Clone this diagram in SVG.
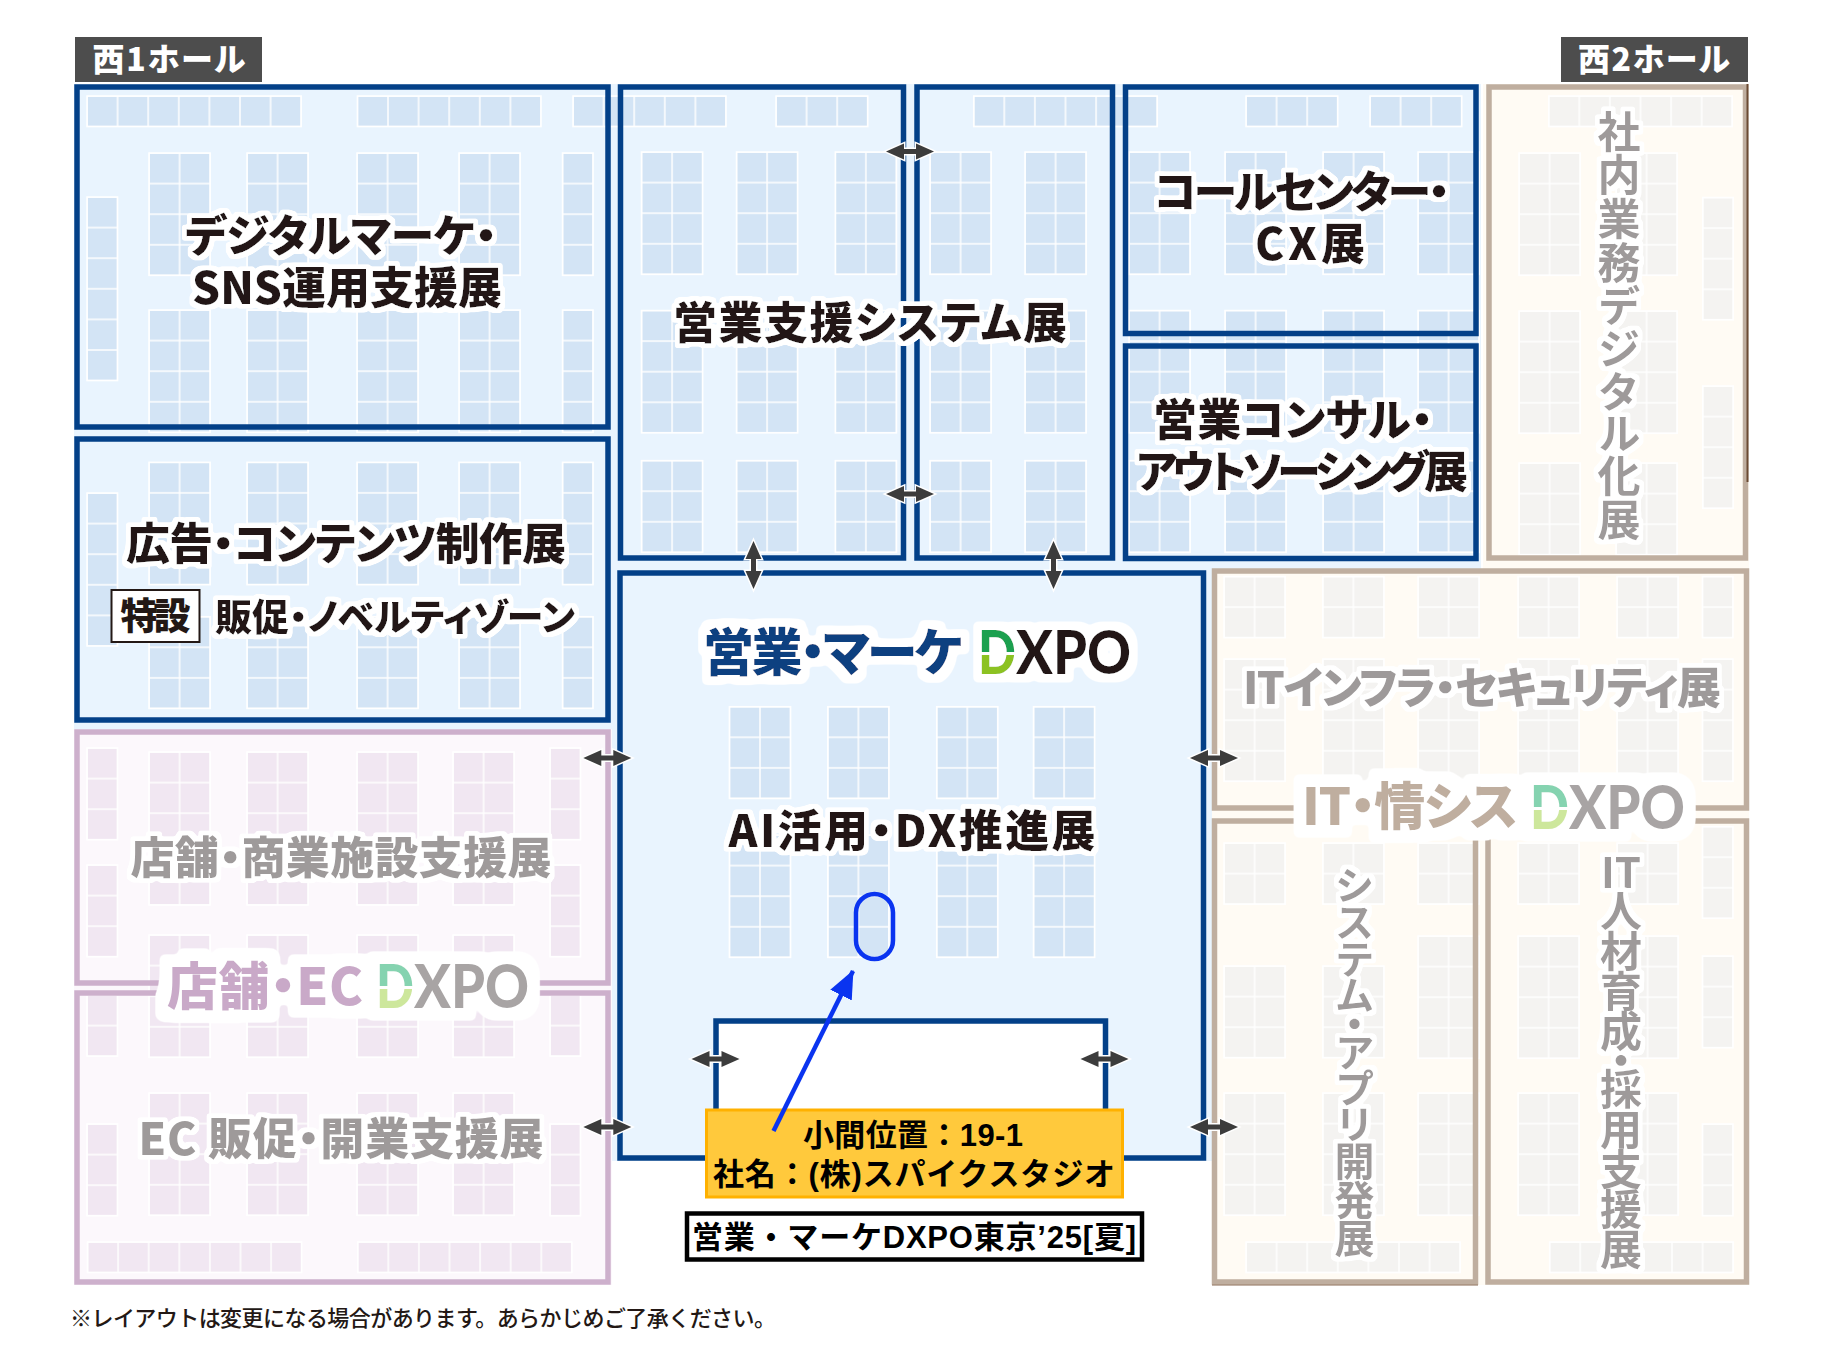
<svg xmlns="http://www.w3.org/2000/svg" width="1830" height="1350" viewBox="0 0 1830 1350">
<style>
.bb{fill:url(#cb);stroke:#fff;stroke-width:1.5}
.bp{fill:url(#cp);stroke:#fff;stroke-width:1.5}
.bg{fill:url(#cg);stroke:#fff;stroke-width:1.5}
.fb{fill:none;stroke:#034088;stroke-width:5.5}
.fp{fill:none;stroke:#cdb0cc;stroke-width:5.5}
.fg{fill:none;stroke:#bfae9f;stroke-width:5.5}
text{font-family:"Noto Sans CJK JP",sans-serif;font-weight:900;font-feature-settings:"palt";text-anchor:middle}
.k{fill:#231815;font-size:44px;filter:url(#h4)}
.g{fill:#9e9a9a;font-size:44px;filter:url(#h4)}
.v{writing-mode:vertical-rl;text-anchor:start;font-feature-settings:"vpal";font-weight:700}
.hall{fill:#fff;font-size:32px}
.logo{font-size:51px}
.dx{font-family:Lato,sans-serif;font-size:60px;text-anchor:start;font-feature-settings:normal}
.lab{font-family:"Liberation Sans","Noto Sans CJK JP",sans-serif;fill:#000;font-size:31px;font-weight:700;font-feature-settings:normal}
.note{fill:#231815;font-size:22px;font-weight:500;text-anchor:start;font-feature-settings:normal}
.dbl{fill:#3c3c3c;stroke:#fff;stroke-width:3;paint-order:stroke}
</style>
<defs>
<pattern id="cb" width="30.6" height="30.6" patternUnits="userSpaceOnUse"><rect width="30.6" height="30.6" fill="#d3e4f5" stroke="#fff" stroke-width="1.5"/></pattern>
<pattern id="cp" width="30.6" height="30.6" patternUnits="userSpaceOnUse"><rect width="30.6" height="30.6" fill="#f1e7f2" stroke="#fff" stroke-width="1.5"/></pattern>
<pattern id="cg" width="30.6" height="30.6" patternUnits="userSpaceOnUse"><rect width="30.6" height="30.6" fill="#f4f3f1" stroke="#fff" stroke-width="1.5"/></pattern>
<linearGradient id="dc" x1="0" y1="0" x2="0" y2="1"><stop offset="0.52" stop-color="#1aa050"/><stop offset="0.52" stop-color="#fff"/><stop offset="0.55" stop-color="#fff"/><stop offset="0.55" stop-color="#8cc220"/></linearGradient>
<linearGradient id="df" x1="0" y1="0" x2="0" y2="1"><stop offset="0.52" stop-color="#85d3b0"/><stop offset="0.52" stop-color="#fff"/><stop offset="0.55" stop-color="#fff"/><stop offset="0.55" stop-color="#cde79c"/></linearGradient>
<filter id="h4" x="-50%" y="-50%" width="200%" height="200%"><feMorphology in="SourceAlpha" operator="dilate" radius="3.5"/><feGaussianBlur stdDeviation="1"/><feComponentTransfer result="m"><feFuncA type="linear" slope="5" intercept="-1"/></feComponentTransfer><feFlood flood-color="#fff"/><feComposite in2="m" operator="in"/><feMerge><feMergeNode/><feMergeNode in="SourceGraphic"/></feMerge></filter>
<filter id="h8" x="-20%" y="-50%" width="140%" height="200%"><feMorphology in="SourceAlpha" operator="dilate" radius="7"/><feGaussianBlur stdDeviation="2"/><feComponentTransfer result="m"><feFuncA type="linear" slope="6" intercept="-1"/></feComponentTransfer><feFlood flood-color="#fff"/><feComposite in2="m" operator="in"/><feMerge><feMergeNode/><feMergeNode in="SourceGraphic"/></feMerge></filter>
<filter id="h12" x="-20%" y="-50%" width="140%" height="200%"><feMorphology in="SourceAlpha" operator="dilate" radius="11"/><feGaussianBlur stdDeviation="2.5"/><feComponentTransfer result="m"><feFuncA type="linear" slope="6" intercept="-1"/></feComponentTransfer><feFlood flood-color="#fff"/><feComposite in2="m" operator="in"/><feMerge><feMergeNode/><feMergeNode in="SourceGraphic"/></feMerge></filter>
<path id="dbl" class="dbl" d="M-24,0L-6,-8V-2.5H6V-8L24,0L6,8V2.5H-6V8Z"/>
<marker id="bh" markerUnits="userSpaceOnUse" markerWidth="30" markerHeight="24" refX="27" refY="12" orient="auto"><path d="M0,0L28,12L0,24Z" fill="#0a34f0"/></marker>
</defs>

<g id="floor">
<rect x="74" y="84" width="1407" height="490" fill="#e9f4fe"/>
<rect x="74" y="84" width="544" height="645" fill="#e9f4fe"/>
<rect x="612" y="570" width="600" height="591" fill="#e9f4fe"/>
<rect x="74" y="729" width="538" height="556" fill="#fcf8fc"/>
<rect x="1483" y="84" width="266" height="490" fill="#fffbf4"/>
<rect x="1212" y="569" width="537" height="716" fill="#fffbf4"/>
</g>

<g id="booths-blue">
<rect class="bb" transform="translate(87,96)" width="214.2" height="30.6"/>
<rect class="bb" transform="translate(357.4,96)" width="183.6" height="30.6"/>
<rect class="bb" transform="translate(573,96)" width="153" height="30.6"/>
<rect class="bb" transform="translate(776,96)" width="91.8" height="30.6"/>
<rect class="bb" transform="translate(973.7,96)" width="183.6" height="30.6"/>
<rect class="bb" transform="translate(1246,96)" width="91.8" height="30.6"/>
<rect class="bb" transform="translate(1370,96)" width="91.8" height="30.6"/>
<rect class="bb" transform="translate(87,197)" width="30.6" height="183.6"/>
<rect class="bb" transform="translate(149,153)" width="61.2" height="122.4"/>
<rect class="bb" transform="translate(247,153)" width="61.2" height="122.4"/>
<rect class="bb" transform="translate(357,153)" width="61.2" height="122.4"/>
<rect class="bb" transform="translate(459,153)" width="61.2" height="122.4"/>
<rect class="bb" transform="translate(562.5,153)" width="30.6" height="122.4"/>
<rect class="bb" transform="translate(149,310)" width="61.2" height="122.4"/>
<rect class="bb" transform="translate(247,310)" width="61.2" height="122.4"/>
<rect class="bb" transform="translate(357,310)" width="61.2" height="122.4"/>
<rect class="bb" transform="translate(459,310)" width="61.2" height="122.4"/>
<rect class="bb" transform="translate(562.5,310)" width="30.6" height="122.4"/>
<rect class="bb" transform="translate(87,493)" width="30.6" height="153"/>
<rect class="bb" transform="translate(149,462.3)" width="61.2" height="122.4"/>
<rect class="bb" transform="translate(247,462.3)" width="61.2" height="122.4"/>
<rect class="bb" transform="translate(357,462.3)" width="61.2" height="122.4"/>
<rect class="bb" transform="translate(459,462.3)" width="61.2" height="122.4"/>
<rect class="bb" transform="translate(562.5,462.3)" width="30.6" height="122.4"/>
<rect class="bb" transform="translate(149,616.7)" width="61.2" height="91.8"/>
<rect class="bb" transform="translate(247,616.7)" width="61.2" height="91.8"/>
<rect class="bb" transform="translate(357,616.7)" width="61.2" height="91.8"/>
<rect class="bb" transform="translate(459,616.7)" width="61.2" height="91.8"/>
<rect class="bb" transform="translate(562.5,616.7)" width="30.6" height="91.8"/>
<rect class="bb" transform="translate(641.5,152)" width="61.2" height="122.4"/>
<rect class="bb" transform="translate(736.5,152)" width="61.2" height="122.4"/>
<rect class="bb" transform="translate(835.3,152)" width="61.2" height="122.4"/>
<rect class="bb" transform="translate(930,152)" width="61.2" height="122.4"/>
<rect class="bb" transform="translate(1025,152)" width="61.2" height="122.4"/>
<rect class="bb" transform="translate(1129,152)" width="61.2" height="122.4"/>
<rect class="bb" transform="translate(1225,152)" width="61.2" height="122.4"/>
<rect class="bb" transform="translate(1323,152)" width="61.2" height="122.4"/>
<rect class="bb" transform="translate(1418,152)" width="61.2" height="122.4"/>
<rect class="bb" transform="translate(641.5,310.5)" width="61.2" height="122.4"/>
<rect class="bb" transform="translate(736.5,310.5)" width="61.2" height="122.4"/>
<rect class="bb" transform="translate(835.3,310.5)" width="61.2" height="122.4"/>
<rect class="bb" transform="translate(930,310.5)" width="61.2" height="122.4"/>
<rect class="bb" transform="translate(1025,310.5)" width="61.2" height="122.4"/>
<rect class="bb" transform="translate(1129,310.5)" width="61.2" height="122.4"/>
<rect class="bb" transform="translate(1225,310.5)" width="61.2" height="122.4"/>
<rect class="bb" transform="translate(1323,310.5)" width="61.2" height="122.4"/>
<rect class="bb" transform="translate(1418,310.5)" width="61.2" height="122.4"/>
<rect class="bb" transform="translate(641.5,460.6)" width="61.2" height="91.8"/>
<rect class="bb" transform="translate(736.5,460.6)" width="61.2" height="91.8"/>
<rect class="bb" transform="translate(835.3,460.6)" width="61.2" height="91.8"/>
<rect class="bb" transform="translate(930,460.6)" width="61.2" height="91.8"/>
<rect class="bb" transform="translate(1025,460.6)" width="61.2" height="91.8"/>
<rect class="bb" transform="translate(1129,460.6)" width="61.2" height="91.8"/>
<rect class="bb" transform="translate(1225,460.6)" width="61.2" height="91.8"/>
<rect class="bb" transform="translate(1323,460.6)" width="61.2" height="91.8"/>
<rect class="bb" transform="translate(1418,460.6)" width="61.2" height="91.8"/>
<rect class="bb" transform="translate(729.4,706.7)" width="61.2" height="91.8"/>
<rect class="bb" transform="translate(827.8,706.7)" width="61.2" height="91.8"/>
<rect class="bb" transform="translate(936.7,706.7)" width="61.2" height="91.8"/>
<rect class="bb" transform="translate(1033.5,706.7)" width="61.2" height="91.8"/>
<rect class="bb" transform="translate(729.4,835)" width="61.2" height="122.4"/>
<rect class="bb" transform="translate(827.8,835)" width="61.2" height="122.4"/>
<rect class="bb" transform="translate(936.7,835)" width="61.2" height="122.4"/>
<rect class="bb" transform="translate(1033.5,835)" width="61.2" height="122.4"/>
</g>

<g id="booths-pink">
<rect class="bp" transform="translate(149,752)" width="61.2" height="153"/>
<rect class="bp" transform="translate(247,752)" width="61.2" height="153"/>
<rect class="bp" transform="translate(357,752)" width="61.2" height="153"/>
<rect class="bp" transform="translate(453,752)" width="61.2" height="153"/>
<rect class="bp" transform="translate(149,935)" width="61.2" height="122.4"/>
<rect class="bp" transform="translate(247,935)" width="61.2" height="122.4"/>
<rect class="bp" transform="translate(357,935)" width="61.2" height="122.4"/>
<rect class="bp" transform="translate(453,935)" width="61.2" height="122.4"/>
<rect class="bp" transform="translate(149,1093)" width="61.2" height="122.4"/>
<rect class="bp" transform="translate(247,1093)" width="61.2" height="122.4"/>
<rect class="bp" transform="translate(357,1093)" width="61.2" height="122.4"/>
<rect class="bp" transform="translate(453,1093)" width="61.2" height="122.4"/>
<rect class="bp" transform="translate(87,748)" width="30.6" height="91.8"/>
<rect class="bp" transform="translate(87,865)" width="30.6" height="91.8"/>
<rect class="bp" transform="translate(87,995)" width="30.6" height="61.2"/>
<rect class="bp" transform="translate(87,1124)" width="30.6" height="91.8"/>
<rect class="bp" transform="translate(550,748)" width="30.6" height="91.8"/>
<rect class="bp" transform="translate(550,865)" width="30.6" height="91.8"/>
<rect class="bp" transform="translate(550,995)" width="30.6" height="61.2"/>
<rect class="bp" transform="translate(550,1124)" width="30.6" height="91.8"/>
<rect class="bp" transform="translate(87.5,1242)" width="214.2" height="30.6"/>
<rect class="bp" transform="translate(357.7,1242)" width="214.2" height="30.6"/>
</g>

<g id="booths-grey">
<rect class="bg" transform="translate(1548.7,96)" width="183.6" height="30.6"/>
<rect class="bg" transform="translate(1519,153)" width="61.2" height="122.4"/>
<rect class="bg" transform="translate(1616,153)" width="61.2" height="122.4"/>
<rect class="bg" transform="translate(1519,311)" width="61.2" height="122.4"/>
<rect class="bg" transform="translate(1616,311)" width="61.2" height="122.4"/>
<rect class="bg" transform="translate(1519,463)" width="61.2" height="91.8"/>
<rect class="bg" transform="translate(1616,463)" width="61.2" height="91.8"/>
<rect class="bg" transform="translate(1702.7,197.5)" width="30.6" height="122.4"/>
<rect class="bg" transform="translate(1702.7,386)" width="30.6" height="122.4"/>
<rect class="bg" transform="translate(1224,576.5)" width="61.2" height="61.2"/>
<rect class="bg" transform="translate(1322.8,576.5)" width="61.2" height="61.2"/>
<rect class="bg" transform="translate(1418,576.5)" width="61.2" height="61.2"/>
<rect class="bg" transform="translate(1518,576.5)" width="61.2" height="61.2"/>
<rect class="bg" transform="translate(1617,576.5)" width="61.2" height="61.2"/>
<rect class="bg" transform="translate(1702.4,576.5)" width="30.6" height="61.2"/>
<rect class="bg" transform="translate(1224,659)" width="61.2" height="122.4"/>
<rect class="bg" transform="translate(1322.8,659)" width="61.2" height="122.4"/>
<rect class="bg" transform="translate(1418,659)" width="61.2" height="122.4"/>
<rect class="bg" transform="translate(1518,659)" width="61.2" height="122.4"/>
<rect class="bg" transform="translate(1617,659)" width="61.2" height="122.4"/>
<rect class="bg" transform="translate(1702.4,659)" width="30.6" height="122.4"/>
<rect class="bg" transform="translate(1224,843)" width="61.2" height="61.2"/>
<rect class="bg" transform="translate(1322.8,843)" width="61.2" height="61.2"/>
<rect class="bg" transform="translate(1418,843)" width="61.2" height="61.2"/>
<rect class="bg" transform="translate(1518,843)" width="61.2" height="61.2"/>
<rect class="bg" transform="translate(1617,843)" width="61.2" height="61.2"/>
<rect class="bg" transform="translate(1224,966)" width="61.2" height="91.8"/>
<rect class="bg" transform="translate(1322.8,966)" width="61.2" height="91.8"/>
<rect class="bg" transform="translate(1418,936)" width="61.2" height="122.4"/>
<rect class="bg" transform="translate(1518,936)" width="61.2" height="122.4"/>
<rect class="bg" transform="translate(1617,936)" width="61.2" height="122.4"/>
<rect class="bg" transform="translate(1224,1093)" width="61.2" height="122.4"/>
<rect class="bg" transform="translate(1322.8,1093)" width="61.2" height="122.4"/>
<rect class="bg" transform="translate(1418,1093)" width="61.2" height="122.4"/>
<rect class="bg" transform="translate(1518,1093)" width="61.2" height="122.4"/>
<rect class="bg" transform="translate(1617,1093)" width="61.2" height="122.4"/>
<rect class="bg" transform="translate(1702.4,826.6)" width="30.6" height="91.8"/>
<rect class="bg" transform="translate(1702.4,956)" width="30.6" height="91.8"/>
<rect class="bg" transform="translate(1702.4,1124)" width="30.6" height="91.8"/>
<rect class="bg" transform="translate(1246,1242)" width="214.2" height="30.6"/>
<rect class="bg" transform="translate(1549.6,1242)" width="183.6" height="30.6"/>
</g>

<g id="hall-west1">
<rect x="75" y="37" width="187" height="45" fill="#4d4d4d"/>
<text class="hall" x="169" y="71" textLength="153">西1ホール</text>
</g>
<g id="hall-west2">
<rect x="1561" y="37" width="187" height="45" fill="#4d4d4d"/>
<text class="hall" x="1654" y="71" textLength="152">西2ホール</text>
</g>

<g id="zone-digital-marketing">
<rect class="fb" x="77" y="87" width="531" height="340"/>
<text class="k" x="341" y="252" textLength="312">デジタルマーケ・</text>
<text class="k" x="347" y="304" textLength="310">SNS運用支援展</text>
</g>
<g id="zone-advertising">
<rect class="fb" x="77" y="439" width="531" height="281"/>
<text class="k" x="346" y="560" textLength="440">広告・コンテンツ制作展</text>
<rect x="111.5" y="590" width="88" height="52" fill="#fff" stroke="#231815" stroke-width="2"/>
<text class="k" style="font-size:37px;filter:none" x="155.5" y="630" textLength="70">特設</text>
<text class="k" style="font-size:37px" x="395" y="631" textLength="360">販促・ノベルティゾーン</text>
</g>
<g id="zone-sales-support">
<rect class="fb" x="620.5" y="87" width="283" height="471"/>
<rect class="fb" x="917" y="87" width="195.5" height="471"/>
<text class="k" x="870" y="339" textLength="394">営業支援システム展</text>
</g>
<g id="zone-call-center">
<rect class="fb" x="1125.5" y="87" width="350.5" height="246.5"/>
<text class="k" x="1302" y="208" textLength="296">コールセンター・</text>
<text class="k" x="1310" y="260" textLength="110">CX展</text>
</g>
<g id="zone-sales-consulting">
<rect class="fb" x="1125.5" y="346" width="350.5" height="212.5"/>
<text class="k" x="1293" y="436" textLength="280">営業コンサル・</text>
<text class="k" x="1302" y="488" textLength="332">アウトソーシング展</text>
</g>
<g id="zone-internal-dx">
<rect class="fg" x="1489" y="87" width="256.5" height="471"/>
<line x1="1747.5" y1="84" x2="1747.5" y2="482" stroke="#6b4a33" stroke-width="2"/>
<text class="g v" x="1619" y="110" style="font-size:43px;letter-spacing:0.6px">社内業務デジタル化展</text>
</g>
<g id="zone-store-ec">
<rect class="fp" x="77" y="732" width="531" height="251"/>
<rect class="fp" x="77" y="993" width="531" height="289"/>
<text class="g" x="341" y="874" textLength="421">店舗・商業施設支援展</text>
<text class="g" x="341" y="1155" textLength="405">EC 販促・開業支援展</text>
<g filter="url(#h12)">
<text class="logo" style="fill:#c9a9c8" x="265" y="1005" textLength="196">店舗・EC</text>
<text class="logo dx" style="fill:url(#df)" x="376" y="1008" textLength="38" lengthAdjust="spacingAndGlyphs">D</text>
<text class="logo dx" style="fill:#a8a4a4" x="414" y="1008" textLength="115" lengthAdjust="spacingAndGlyphs">XPO</text>
</g>
</g>
<g id="zone-it">
<rect class="fg" x="1214.5" y="571" width="532" height="237"/>
<rect class="fg" x="1214.5" y="821" width="261" height="461"/>
<rect class="fg" x="1488" y="821" width="258.5" height="461"/>
<line x1="1212" y1="1285" x2="1478" y2="1285" stroke="#8a6a55"/>
<text class="g" x="1482" y="704" textLength="478">ITインフラ・セキュリティ展</text>
<g filter="url(#h12)">
<text class="logo" style="fill:#bfae9f" x="1410" y="825" textLength="216">IT・情シス</text>
<text class="logo dx" style="fill:url(#df)" x="1530" y="829" textLength="39" lengthAdjust="spacingAndGlyphs">D</text>
<text class="logo dx" style="fill:#a8a4a4" x="1569" y="829" textLength="116" lengthAdjust="spacingAndGlyphs">XPO</text>
</g>
<text class="g v" x="1354.5" y="867" style="font-size:40px;letter-spacing:-1.5px">システム・アプリ開発展</text>
<text class="g" style="font-size:42px;font-weight:700" x="1621" y="888" textLength="40">IT</text>
<text class="g v" x="1621" y="890" style="font-size:42px;letter-spacing:-2.1px">人材育成・採用支援展</text>
</g>
<g id="zone-main">
<rect class="fb" x="620" y="573" width="583.5" height="585"/>
<rect x="716" y="1021" width="389.5" height="100" fill="#fff" stroke="#034088" stroke-width="5.5"/>
<g filter="url(#h8)">
<text class="logo" style="fill:#0f3f80" x="833" y="671" textLength="260">営業・マーケ</text>
<text class="logo dx" style="fill:url(#dc)" x="978" y="674" textLength="38" lengthAdjust="spacingAndGlyphs">D</text>
<text class="logo dx" style="fill:#231815" x="1016" y="674" textLength="115" lengthAdjust="spacingAndGlyphs">XPO</text>
</g>
<text class="k" x="912" y="847" textLength="367">AI活用・DX推進展</text>
<rect id="booth-spike" x="856" y="894" width="37" height="65" rx="18.5" fill="none" stroke="#0a34f0" stroke-width="4.5"/>
</g>

<g id="connectors">
<use href="#dbl" transform="translate(910,151.5)"/>
<use href="#dbl" transform="translate(910,494)"/>
<use href="#dbl" transform="translate(753.5,565) rotate(90)"/>
<use href="#dbl" transform="translate(1053.5,565) rotate(90)"/>
<use href="#dbl" transform="translate(607.3,758)"/>
<use href="#dbl" transform="translate(607.3,1127)"/>
<use href="#dbl" transform="translate(1214,758)"/>
<use href="#dbl" transform="translate(1214,1127)"/>
<use href="#dbl" transform="translate(715.5,1059)"/>
<use href="#dbl" transform="translate(1104.5,1059)"/>
</g>

<g id="callout">
<rect x="706.5" y="1110" width="416" height="87" fill="#ffc93c" stroke="#ffb100" stroke-width="3"/>
<text class="lab" x="913" y="1146" textLength="220">小間位置：19-1</text>
<text class="lab" x="914" y="1185" textLength="402">社名：(株)スパイクスタジオ</text>
<line x1="773.5" y1="1131" x2="853" y2="971" stroke="#0a34f0" stroke-width="4.5" marker-end="url(#bh)"/>
</g>
<g id="expo-title">
<rect x="687" y="1213.5" width="455" height="46" fill="#fff" stroke="#000" stroke-width="4.5"/>
<text class="lab" x="914" y="1247.5" textLength="444">営業・マーケDXPO東京’25[夏]</text>
</g>
<text class="note" x="70" y="1326" textLength="706">※レイアウトは変更になる場合があります。あらかじめご了承ください。</text>
</svg>
